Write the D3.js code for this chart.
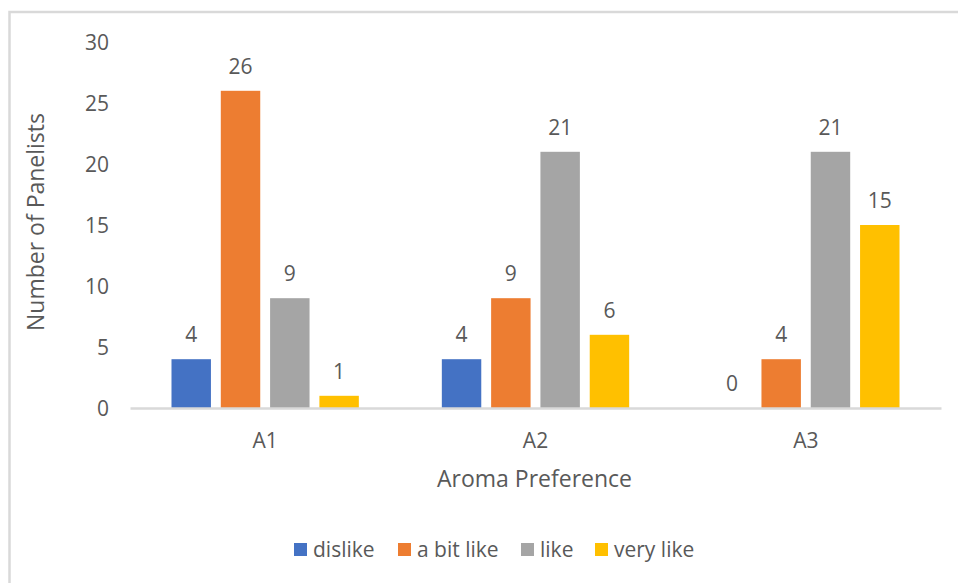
<!DOCTYPE html>
<html>
<head>
<meta charset="utf-8">
<script src="https://cdn.jsdelivr.net/npm/d3@7"></script>
<style>
  html, body { margin: 0; padding: 0; background: #fff; }
  svg { display: block; }
  text { font-family: "Open Sans", "Noto Sans", sans-serif; fill: #595959; }
</style>
</head>
<body>
<svg id="chart" width="958" height="583"></svg>
<script>
// Aroma preference counts per sample
const categories = ["A1", "A2", "A3"];
const seriesNames = ["dislike", "a bit like", "like", "very like"];
const dislike = [4, 4, 0];
const aBitLike = [26, 9, 4];
const like = [9, 21, 21];
const veryLike = [1, 6, 15];
const yTicks = [0, 5, 10, 15, 20, 25, 30];
const colors = ["#4472C4", "#ED7D31", "#A5A5A5", "#FFC000"];

const seriesValues = [dislike, aBitLike, like, veryLike];

const FONT = "'Open Sans', 'Noto Sans', sans-serif";
const svg = d3.select("#chart");

// outer chart frame
svg.append("rect")
  .attr("x", 9.5).attr("y", 12)
  .attr("width", 980).attr("height", 600)
  .attr("fill", "none").attr("stroke", "#D9D9D9").attr("stroke-width", 2.5);

const plot = { left: 130, right: 941, top: 42, bottom: 408 };

const x = d3.scaleBand()
  .domain(categories)
  .range([plot.left, plot.right])
  .paddingInner(0).paddingOuter(0);

// bar slots inside each category, relative to the category centre
const inner = d3.scaleBand()
  .domain(seriesNames)
  .range([-98.6, 98.6])
  .paddingInner(0.2).paddingOuter(0.1);

const y = d3.scaleLinear().domain([0, 30]).range([plot.bottom, plot.top]);

// y axis labels (no line, no ticks)
const yAxis = d3.axisLeft(y).tickValues(yTicks).tickSize(0).tickPadding(0);
const yg = svg.append("g").attr("transform", `translate(${plot.left - 21},0)`).call(yAxis);
yg.select(".domain").remove();
yg.selectAll("text")
  .attr("text-anchor", "end")
  .style("font-size", "21px").style("font-family", FONT).attr("fill", "#595959")
  .attr("dy", "0.35em");

// bars
const groups = svg.append("g").selectAll("g")
  .data(categories)
  .join("g")
  .attr("transform", d => `translate(${x(d) + x.bandwidth() / 2},0)`);

const cells = groups.selectAll("g.cell")
  .data((c, ci) => seriesNames.map((s, si) => ({ s, si, v: seriesValues[si][ci] })))
  .join("g").attr("class", "cell");

cells.append("rect")
  .attr("x", d => inner(d.s))
  .attr("width", inner.bandwidth())
  .attr("y", d => y(d.v))
  .attr("height", d => y(0) - y(d.v))
  .attr("fill", d => colors[d.si]);

cells.append("text")
  .attr("x", d => inner(d.s) + inner.bandwidth() / 2)
  .attr("y", d => y(d.v) - 17)
  .attr("text-anchor", "middle")
  .style("font-size", "21px")
  .text(d => d.v);

// x axis
const xAxis = d3.axisBottom(x).tickSize(0).tickPadding(0);
const xg = svg.append("g").attr("transform", `translate(0,${plot.bottom})`).call(xAxis);
xg.select(".domain").attr("stroke", "#D9D9D9").attr("stroke-width", 2.5);
xg.selectAll("text")
  .attr("y", 40).attr("dy", 0)
  .style("font-size", "21px").style("font-family", FONT).attr("fill", "#595959");

// axis titles
svg.append("text")
  .attr("x", (plot.left + plot.right) / 2 - 1)
  .attr("y", 487)
  .attr("text-anchor", "middle")
  .style("font-size", "23px")
  .text("Aroma Preference");

svg.append("text")
  .attr("transform", `translate(44,${(plot.top + plot.bottom) / 2 - 3}) rotate(-90)`)
  .attr("text-anchor", "middle")
  .style("font-size", "23px")
  .text("Number of Panelists");

// legend
const legendX = [294, 398, 521, 595];
const legend = svg.append("g").selectAll("g")
  .data(seriesNames)
  .join("g")
  .attr("transform", (d, i) => `translate(${legendX[i]},550)`);
legend.append("rect")
  .attr("x", 0).attr("y", -7).attr("width", 13).attr("height", 13)
  .attr("fill", (d, i) => colors[i]);
legend.append("text")
  .attr("x", 19).attr("y", 7)
  .style("font-size", "21px")
  .text(d => d);
</script>
</body>
</html>
